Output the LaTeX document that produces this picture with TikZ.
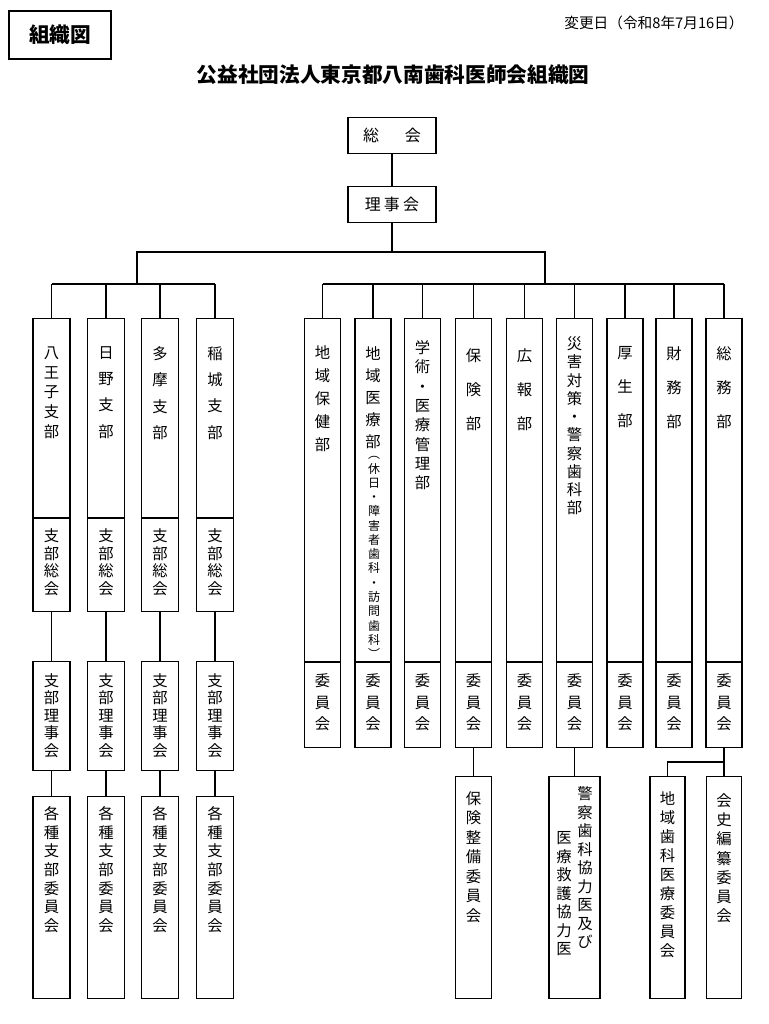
\documentclass[tikz,border=0pt]{standalone}
\usepackage{fontspec}
\setmainfont{Noto Sans CJK JP}
\begin{document}
\begin{tikzpicture}[x=.75pt,y=-.75pt,line width=.9pt,
	bx/.style 2 args={draw,inner sep=0,minimum width=#1*.75pt,minimum height=#2*.75pt,anchor=north},
	vt/.style 2 args={inner sep=0,anchor=north,align=center,font=\fontsize{#1}{#2}\selectfont}]
	\useasboundingbox (0,0) rectangle (768,1024);
	% heading
	\node[draw,inner sep=0,minimum width=102*.75pt,minimum height=48*.75pt,font=\fontsize{15.5}{18}\selectfont\bfseries] (zu) at (60,35) {組織図};
	\node[inner sep=0,font=\fontsize{11}{12}\selectfont] (henko) at (654,23) {変更日（令和8年7月16日）};
	\node[inner sep=0,font=\fontsize{15.5}{18}\selectfont\bfseries] (title) at (393,75) {公益社団法人東京都八南歯科医師会組織図};
	\node[bx={88}{36},font=\fontsize{12}{14}\selectfont] (sokai) at (392,117) {総\hspace{1.6em}会};
	\node[bx={88}{36},font=\fontsize{12}{14}\selectfont] (riji) at (392,186) {理\hspace{.2em}事\hspace{.2em}会};
	\coordinate (top) at (392,252);
	\coordinate (lb) at (137,284);
	\coordinate (rb) at (545,284);
	\draw (sokai.south)--(riji.north);
	\draw (riji.south)--(top);
	\draw (lb)--(lb|-top)--(rb|-top)--(rb);
	% shibu
	\foreach \x/\nm/\t/\s in {51.5/hachi/{八\\王\\子\\支\\部}/14.85,106/hino/{日\\野\\支\\部}/19.7,160/tama/{多\\摩\\支\\部}/19.7,215/inagi/{稲\\城\\支\\部}/19.7}{
		\node[bx={37}{199}] (\nm) at (\x,318) {};
		\node[bx={37}{93}] (\nm-so) at (\nm.south) {};
		\node[bx={37}{109}] (\nm-ri) at (\x,661) {};
		\node[bx={37}{202}] (\nm-ii) at (\x,796) {};
		\node[vt={11.5}{\s}] (\nm-t) at (\x,346) {\t};
		\node[vt={11.5}{13.3}] (\nm-sot) at (\x,528) {支\\部\\総\\会};
		\node[vt={11.5}{13.1}] (\nm-rit) at (\x,673) {支\\部\\理\\事\\会};
		\node[vt={11.5}{14}] (\nm-iit) at (\x,806) {各\\種\\支\\部\\委\\員\\会};
		\draw (\nm.north)--(\nm.north|-lb);
		\draw (\nm-so.south)--(\nm-ri.north);
		\draw (\nm-ri.south)--(\nm-ii.north);
	}
	\draw (hachi.north|-lb)--(inagi.north|-lb);
	% bu
	\foreach \x/\nm/\t/\s/\y in {322.5/hoken/{地\\域\\保\\健\\部}/17.25/345,373/iryo/{地\\域\\医\\療\\部}/16.5/346,422.5/gaku/{学\\術\\・\\医\\療\\管\\理\\部}/14.5/340,473.5/hoken2/{保\\険\\部}/25.5/348,524.5/koho/{広\\報\\部}/25.5/348,574.5/saigai/{災\\害\\対\\策\\・\\警\\察\\歯\\科\\部}/13.7/336,625/kosei/{厚\\生\\部}/25.5/346,674/zaimu/{財\\務\\部}/25.5/346,724/somu/{総\\務\\部}/25.5/346}{
		\node[bx={36}{343}] (\nm) at (\x,318) {};
		\node[bx={36}{85}] (\nm-ii) at (\nm.south) {};
		\node[vt={11.5}{\s}] (\nm-t) at (\x,\y) {\t};
		\node[vt={11.5}{16.3}] (\nm-iit) at (\x,673) {委\\員\\会};
		\draw (\nm.north)--(\nm.north|-rb);
	}
	\draw (hoken.north|-rb)--(somu.north|-rb);
	\node[vt={9}{10.7}] (iryo-p) at (374,456) {︵\\休\\日\\・\\障\\害\\者\\歯\\科\\・\\訪\\問\\歯\\科\\︶};
	% iinkai
	\node[bx={36}{222}] (seibi) at (473.5,776) {};
	\node[bx={51}{222}] (kyoryoku) at (574.5,776) {};
	\node[bx={35}{222}] (chiiki) at (667.5,776) {};
	\node[bx={35}{222}] (kaishi) at (724,776) {};
	\node[vt={11.5}{14.6}] (seibi-t) at (473.5,791) {保\\険\\整\\備\\委\\員\\会};
	\node[vt={11.5}{13.9}] (kyoryoku-t1) at (585,786) {警\\察\\歯\\科\\協\\力\\医\\及\\び};
	\node[vt={11.5}{13.9}] (kyoryoku-t2) at (564,831) {医\\療\\救\\護\\協\\力\\医};
	\node[vt={11.5}{14.25}] (chiiki-t) at (667.5,791) {地\\域\\歯\\科\\医\\療\\委\\員\\会};
	\node[vt={11.5}{14.4}] (kaishi-t) at (724,793) {会\\史\\編\\纂\\委\\員\\会};
	\coordinate (kj) at (724,762);
	\draw (hoken2-ii.south)--(seibi.north);
	\draw (saigai-ii.south)--(kyoryoku.north);
	\draw (somu-ii.south)--(kaishi.north);
	\draw (chiiki.north)|-(kj);
	%\draw (kj)--(kaishi.north);
\end{tikzpicture}
\end{document}
